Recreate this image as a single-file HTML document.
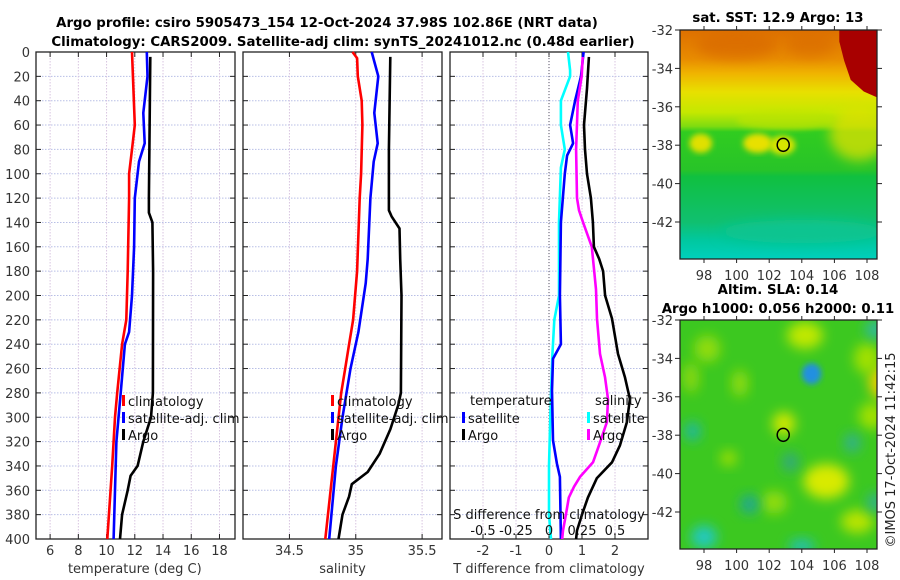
<!DOCTYPE html>
<html><head><meta charset="utf-8">
<style>
html,body{margin:0;padding:0;background:#fff;}
svg{display:block;font-family:"DejaVu Sans","Liberation Sans",sans-serif;}
</style></head>
<body>
<svg id="chart" width="900" height="580" viewBox="0 0 900 580" xmlns="http://www.w3.org/2000/svg">
<defs>
<filter id="blur3" x="-20%" y="-20%" width="140%" height="140%"><feGaussianBlur stdDeviation="3"/></filter>
<filter id="blur6" x="-50%" y="-50%" width="200%" height="200%"><feGaussianBlur stdDeviation="6"/></filter>
<clipPath id="clipSST"><rect x="680" y="30" width="197" height="229"/></clipPath>
<clipPath id="clipSLA"><rect x="680" y="320" width="197" height="229"/></clipPath>
<linearGradient id="sstGrad" x1="0" y1="0" x2="0" y2="1">
<stop offset="0" stop-color="#de7000"/><stop offset="0.126" stop-color="#e88c00"/>
<stop offset="0.19" stop-color="#f0b400"/><stop offset="0.27" stop-color="#e8e000"/>
<stop offset="0.36" stop-color="#c4e800"/><stop offset="0.42" stop-color="#80dc10"/>
<stop offset="0.445" stop-color="#30cc20"/><stop offset="0.61" stop-color="#28c428"/>
<stop offset="0.64" stop-color="#10c040"/><stop offset="0.84" stop-color="#10c070"/>
<stop offset="0.92" stop-color="#00c8a0"/><stop offset="1" stop-color="#00d0bc"/>
</linearGradient>
</defs>
<g id="titles" font-weight="bold" font-size="13.3" text-anchor="middle" fill="#000">
<text x="327" y="27">Argo profile: csiro 5905473_154 12-Oct-2024 37.98S 102.86E (NRT data)</text>
<text x="343" y="46">Climatology: CARS2009. Satellite-adj clim: synTS_20241012.nc (0.48d earlier)</text>
<text x="778" y="22">sat. SST: 12.9 Argo: 13</text>
<text x="778" y="294">Altim. SLA: 0.14</text>
<text x="778" y="313">Argo h1000: 0.056 h2000: 0.11</text>
</g>
<g id="panels"></g>
<g id="maps"></g>
<text transform="translate(895,450) rotate(-90)" font-size="13" text-anchor="middle" fill="#222">©IMOS 17-Oct-2024 11:42:15</text>
</svg>
<script>
// ---------- data ----------
const depthTicks = [0,20,40,60,80,100,120,140,160,180,200,220,240,260,280,300,320,340,360,380,400];
const tempTicks = [6,8,10,12,14,16,18];
const salTicks = [34.5,35,35.5];
const salTickLabels = ["34.5","35","35.5"];
const dTTicks = [-2,-1,0,1,2];
const dSTicks = [-0.5,-0.25,0,0.25,0.5];
const dSTickLabels = ["-0.5","-0.25","0","0.25","0.5"];

const climTdepth = [0,60,80,100,120,180,220,240,280,300,340,400];
const climT      = [11.8,12.0,11.8,11.6,11.6,11.5,11.4,11.1,10.75,10.6,10.4,10.05];
const satTdepth  = [0,20,50,75,90,120,160,200,230,240,280,320,360,400];
const satT       = [12.85,12.9,12.6,12.7,12.3,12.0,11.95,11.8,11.6,11.3,11.0,10.7,10.6,10.5];
const argoTdepth = [4,120,132,140,180,280,300,320,340,348,360,380,400];
const argoT      = [13.1,13.0,13.0,13.25,13.3,13.28,13.15,12.6,12.2,11.7,11.5,11.1,10.95];

const climSdepth = [0,5,20,40,60,100,120,180,220,240,260,280,320,360,400];
const climS      = [34.975,35.01,35.015,35.045,35.05,35.04,35.03,35.01,34.98,34.95,34.92,34.89,34.85,34.81,34.77];
const satSdepth  = [0,20,50,75,90,120,170,190,230,260,300,340,400];
const satS       = [35.12,35.17,35.14,35.165,35.135,35.11,35.09,35.075,35.02,34.96,34.9,34.85,34.8];
const argoSdepth = [4,80,130,135,145,170,200,280,290,310,330,345,355,365,380,400];
const argoS      = [35.26,35.25,35.25,35.27,35.33,35.335,35.345,35.34,35.32,35.26,35.18,35.09,34.97,34.95,34.9,34.87];

const dTsatDepth  = [0,20,40,60,75,85,100,140,200,240,252,278,319,338,349,400];
const dTsat       = [1.05,0.97,0.79,0.64,0.73,0.55,0.48,0.36,0.33,0.36,0.12,0.09,0.12,0.24,0.33,0.36];
const dTargoDepth = [4,30,60,80,100,120,140,160,170,180,200,219,248,267,285,304,323,337,350,366,380,393,400];
const dTargo      = [1.21,1.15,1.06,1.09,1.15,1.27,1.33,1.36,1.52,1.64,1.7,1.91,2.09,2.3,2.45,2.36,2.15,1.91,1.45,1.18,1.0,0.85,0.82];
const dSsatDepth  = [0,15,20,40,60,80,95,140,200,220,250,300,340,380,400];
const dSsat       = [0.144,0.16,0.16,0.09,0.09,0.12,0.09,0.076,0.076,0.04,0.025,0.01,0.0,0.0,0.015];
const dSargoDepth = [4,20,40,80,120,130,140,160,195,219,248,267,285,304,323,337,349,357,366,380,393,400];
const dSargo      = [0.255,0.248,0.218,0.205,0.212,0.227,0.258,0.324,0.356,0.364,0.386,0.424,0.447,0.439,0.379,0.333,0.235,0.19,0.15,0.128,0.106,0.1];

// ---------- helpers ----------
const NS = "http://www.w3.org/2000/svg";
const panelsG = document.getElementById('panels');
const mapsG = document.getElementById('maps');
function mk(tag, attrs, parent){const e=document.createElementNS(NS,tag);for(const k in attrs)e.setAttribute(k,attrs[k]);(parent||panelsG).appendChild(e);return e;}
const TOP=52, BOT=539;
const yD = d => TOP + (d/400)*(BOT-TOP);
function linScale(d0,d1,r0,r1){return v=>r0+(v-d0)/(d1-d0)*(r1-r0);}

function panel(name, x0, x1, gridVals, xs, yLabels){
  const g = mk('g',{});
  
  
  depthTicks.forEach(d=>{ if(d>0&&d<400){const l=mk('line',{x1:x0,x2:x1,y1:yD(d),y2:yD(d),stroke:'#b8bfe6','stroke-width':1,'stroke-dasharray':'1.5,1.5'},g);
    
    }});
  gridVals.forEach(v=>{const l=mk('line',{x1:xs(v),x2:xs(v),y1:TOP,y2:BOT,stroke:'#d8c4e0','stroke-width':1,'stroke-dasharray':'1.5,1.5'},g);
    
    });
  depthTicks.forEach(d=>{mk('line',{x1:x0,x2:x0+5,y1:yD(d),y2:yD(d),stroke:'#222'},g);mk('line',{x1:x1-5,x2:x1,y1:yD(d),y2:yD(d),stroke:'#222'},g);});
  gridVals.forEach(v=>{mk('line',{x1:xs(v),x2:xs(v),y1:BOT,y2:BOT-5,stroke:'#222'},g);mk('line',{x1:xs(v),x2:xs(v),y1:TOP,y2:TOP+5,stroke:'#222'},g);});
  const fr = mk('rect',{x:x0,y:TOP,width:x1-x0,height:BOT-TOP,fill:'none',stroke:'#222','stroke-width':1.3},g);
  
  
  if(yLabels){
    depthTicks.forEach(d=>{const t=mk('text',{x:30,y:yD(d)+5,'text-anchor':'end','font-size':13,fill:'#333'},g);t.textContent=d;
      
      });
  }
  return g;
}
function series(g, name, depths, vals, xs, color){
  const pts = depths.map((d,i)=>xs(vals[i]).toFixed(1)+','+yD(d).toFixed(1)).join(' ');
  const p = mk('polyline',{points:pts,fill:'none',stroke:color,'stroke-width':2.6,'stroke-linejoin':'round'},g);
  
  
}
function label(g,name,x,y,txt,anchor,size,fill){
  const t=mk('text',{x:x,y:y,'text-anchor':anchor||'middle','font-size':size||13,fill:fill||'#333'},g);
  t.textContent=txt;
  
  
  return t;
}
function legend(g,x,y,color,txt){
  mk('rect',{x:x,y:y-11,width:3,height:11,fill:color},g);
  const t=label(g,'legend-entry',x+6,y,txt,'start',13,'#111');
  
}

// ---------- panel 1: temperature ----------
const xT = linScale(5,19.1,36,235);
const g1 = panel('temperature-panel',36,235,tempTicks,xT,true);
series(g1,'temp-climatology-line',climTdepth,climT,xT,'#ff0000');
series(g1,'temp-satellite-line',satTdepth,satT,xT,'#0000ff');
series(g1,'temp-argo-line',argoTdepth,argoT,xT,'#000000');
tempTicks.forEach(v=>label(g1,'temp-tick-label',xT(v),555,String(v)));
label(g1,'temp-axis-title',xT(12),573,'temperature (deg C)');
legend(g1,122,406,'#ff0000','climatology');
legend(g1,122,423,'#0000ff','satellite-adj. clim');
legend(g1,122,440,'#000000','Argo');

// ---------- panel 2: salinity ----------
const xS = linScale(34.15,35.65,243,442);
const g2 = panel('salinity-panel',243,442,salTicks,xS,false);
series(g2,'sal-climatology-line',climSdepth,climS,xS,'#ff0000');
series(g2,'sal-satellite-line',satSdepth,satS,xS,'#0000ff');
series(g2,'sal-argo-line',argoSdepth,argoS,xS,'#000000');
salTicks.forEach((v,i)=>label(g2,'sal-tick-label',xS(v),555,salTickLabels[i]));
label(g2,'sal-axis-title',xS(34.9),573,'salinity');
legend(g2,331,406,'#ff0000','climatology');
legend(g2,331,423,'#0000ff','satellite-adj. clim');
legend(g2,331,440,'#000000','Argo');

// ---------- panel 3: differences ----------
const xdT = linScale(-3,3,450,648);
const xdS = linScale(-0.75,0.75,450,648);
const g3 = panel('difference-panel',450,648,dTTicks,xdT,false);
const zl = mk('line',{x1:xdT(0),x2:xdT(0),y1:TOP,y2:BOT,stroke:'#556','stroke-width':1,'stroke-dasharray':'1,2'},g3);


series(g3,'dS-satellite-line',dSsatDepth,dSsat,xdS,'#00ffff');
series(g3,'dT-satellite-line',dTsatDepth,dTsat,xdT,'#0000ff');
series(g3,'dS-argo-line',dSargoDepth,dSargo,xdS,'#ff00ff');
series(g3,'dT-argo-line',dTargoDepth,dTargo,xdT,'#000000');
dTTicks.forEach(v=>label(g3,'dT-tick-label',xdT(v),555,String(v)));
label(g3,'dT-axis-title',549,573,'T difference from climatology');
label(g3,'dS-axis-title',549,519,'S difference from climatology','middle',13,'#111');
dSTicks.forEach((v,i)=>label(g3,'dS-tick-label',xdS(v),535,dSTickLabels[i],'middle',13,'#111'));
label(g3,'legend-title-temperature',470,405,'temperature','start',13,'#111');
label(g3,'legend-title-salinity',595,405,'salinity','start',13,'#111');
legend(g3,462,423,'#0000ff','satellite');
legend(g3,462,440,'#000000','Argo');
legend(g3,587,423,'#00ffff','satellite');
legend(g3,587,440,'#ff00ff','Argo');

// ---------- maps ----------
const latTicks = [-32,-34,-36,-38,-40,-42];
const lonTicks = [98,100,102,104,106,108];
const lonX = lon => 704 + (lon-98)*16.3;
function latY(top){return lat => top + (-32-lat)*19.2;}

function mapFrame(name, top, clipId, drawFill){
  const g = mk('g',{},mapsG);
  
  
  const ly = latY(top);
  const inner = mk('g',{'clip-path':'url(#'+clipId+')'},g);
  drawFill(inner, ly);
  const m = mk('ellipse',{cx:lonX(102.86),cy:ly(-37.98),rx:6,ry:6.5,fill:'none',stroke:'#000','stroke-width':1.5},g);
  
  
  mk('rect',{x:680,y:top,width:197,height:229,fill:'none',stroke:'#222','stroke-width':1.3},g);
  latTicks.forEach(l=>{mk('line',{x1:675,x2:680,y1:ly(l),y2:ly(l),stroke:'#222'},g);mk('line',{x1:877,x2:882,y1:ly(l),y2:ly(l),stroke:'#222'},g);
    label(g,'lat-tick-label',673,ly(l)+5,String(l),'end',13,'#333');});
  lonTicks.forEach(l=>{mk('line',{x1:lonX(l),x2:lonX(l),y1:top,y2:top-4,stroke:'#222'},g);mk('line',{x1:lonX(l),x2:lonX(l),y1:top+229,y2:top+233,stroke:'#222'},g);
    label(g,'lon-tick-label',lonX(l),top+250,String(l),'middle',13,'#333');});
}
function blob(g,lon,lat,rx,ry,col,ly,f,op){
  const e=mk('ellipse',{cx:lonX(lon),cy:ly(lat),rx:rx*16.3,ry:ry*19.2,fill:col,filter:'url(#'+(f||'blur6')+')','fill-opacity':op||1},g);
  
  
}
mapFrame('sst-map',30,'clipSST',(g,ly)=>{
  mk('rect',{x:680,y:30,width:197,height:229,fill:'url(#sstGrad)'},g);
  blob(g,100,-32.8,2.5,0.7,'#d86a00',ly,'blur6',0.7);
  blob(g,104.5,-32.8,1.5,0.6,'#d86a00',ly,'blur6',0.6);
  blob(g,107.5,-37.4,1.8,1.4,'#e0e000',ly,'blur6',0.75);
  blob(g,103,-36.7,3,0.5,'#c0e400',ly,'blur3',0.6);
  blob(g,97.8,-37.9,0.7,0.5,'#e0e000',ly,'blur3');
  blob(g,101.3,-37.9,0.9,0.5,'#e8e000',ly,'blur3');
  blob(g,102.8,-38,0.8,0.5,'#d8e400',ly,'blur3');
  blob(g,104,-42.5,5,0.6,'#10c490',ly,'blur6');
  const dr = mk('polygon',{points:[[106.3,-32],[109.2,-32],[109.2,-35.5],[108.6,-35.5],[107.8,-35.2],[107,-34.6],[106.6,-33.6],[106.3,-32.6]].map(p=>lonX(p[0])+','+ly(p[1])).join(' '),fill:'#a80000'},g);
  
  
});
mapFrame('sla-map',320,'clipSLA',(g,ly)=>{
  mk('rect',{x:680,y:320,width:197,height:229,fill:'#3cc820'},g);
  [[104.2,-32.8,1.1,0.7,'#c0e800'],[98.2,-33.5,0.8,0.7,'#90dc10'],[109,-35.2,0.9,1,'#e8d000'],[108,-34,0.8,0.8,'#a0e000'],
   [102.9,-37.4,0.7,0.6,'#d0e800'],[105.5,-40.4,1.4,0.9,'#d8ea00'],[107.4,-42.5,1,0.6,'#b8e400'],[100.2,-35.3,0.5,0.7,'#90dc10'],
   [97.2,-35,0.5,0.8,'#88d810'],[99.5,-39.2,0.5,0.4,'#a0e000'],[108.3,-37,0.8,0.7,'#a0e000'],[102.3,-41.5,0.8,0.6,'#90dc10']]
   .forEach(b=>blob(g,b[0],b[1],b[2],b[3],b[4],ly));
  [[97.3,-37.8,0.5,0.5,'#20b8a0'],[98,-43.3,0.8,0.6,'#20c8c0'],[100.8,-41.6,0.6,0.5,'#20a890'],[107.1,-38.4,0.5,0.5,'#30b090'],
   [108.5,-32.5,0.6,0.5,'#30b8a0'],[103.3,-39.4,0.5,0.5,'#30a880'],[108.5,-41.5,0.5,0.5,'#30b090'],[104,-43.8,0.8,0.4,'#20c0b0']]
   .forEach(b=>blob(g,b[0],b[1],b[2],b[3],b[4],ly));
  blob(g,104.6,-34.8,0.6,0.55,'#2090e0',ly,'blur3');
});
</script>
</body></html>
